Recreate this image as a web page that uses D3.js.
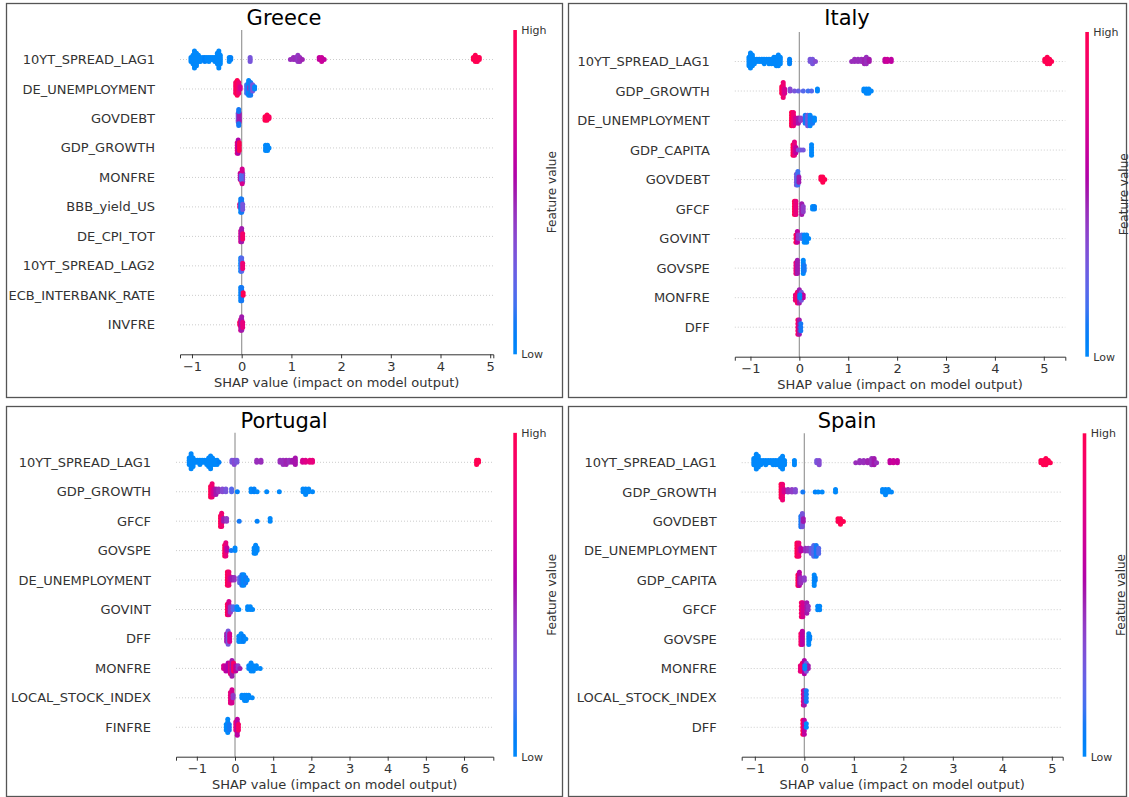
<!DOCTYPE html>
<html>
<head>
<meta charset="utf-8">
<script src="https://cdn.jsdelivr.net/npm/d3@7"></script>
<style>
  body { margin: 0; background: #fff; }
  svg { display: block; }
  text { font-family: 'DejaVu Sans', sans-serif; }
</style>
</head>
<body>
<svg id="chart" width="1129" height="797"></svg>
<script>
// features, top row first
const greeceFeatures = ['10YT_SPREAD_LAG1', 'DE_UNEMPLOYMENT', 'GOVDEBT', 'GDP_GROWTH', 'MONFRE',
  'BBB_yield_US', 'DE_CPI_TOT', '10YT_SPREAD_LAG2', 'ECB_INTERBANK_RATE', 'INVFRE'];
const italyFeatures = ['10YT_SPREAD_LAG1', 'GDP_GROWTH', 'DE_UNEMPLOYMENT', 'GDP_CAPITA', 'GOVDEBT',
  'GFCF', 'GOVINT', 'GOVSPE', 'MONFRE', 'DFF'];
const portugalFeatures = ['10YT_SPREAD_LAG1', 'GDP_GROWTH', 'GFCF', 'GOVSPE', 'DE_UNEMPLOYMENT',
  'GOVINT', 'DFF', 'MONFRE', 'LOCAL_STOCK_INDEX', 'FINFRE'];
const spainFeatures = ['10YT_SPREAD_LAG1', 'GDP_GROWTH', 'GOVDEBT', 'DE_UNEMPLOYMENT', 'GDP_CAPITA',
  'GFCF', 'GOVSPE', 'MONFRE', 'LOCAL_STOCK_INDEX', 'DFF'];

// shap points per feature: [shap value, feature value (0 low .. 1 high), count]
const greeceShap = [
  [[-1.02,0,3],[-0.98,0,5],[-0.95,0,9],[-0.91,0,7],[-0.87,0,4],[-0.83,0,3],[-0.78,0,2],[-0.74,0.05,3],
   [-0.70,0,2],[-0.66,0,3],[-0.62,0,2],[-0.58,0,2],[-0.54,0,3],[-0.49,0,6],[-0.46,0,9],[-0.43,0,5],
   [-0.25,0,3],[-0.22,0.05,2],[0.17,0.3,3],
   [0.98,0.45,1],[1.04,0.45,2],[1.09,0.45,2],[1.13,0.42,4],[1.17,0.45,3],[1.22,0.48,1],
   [1.56,0.62,2],[1.61,0.65,3],[1.66,0.62,1],
   [4.66,1,2],[4.70,1,4],[4.74,1,3],[4.78,1,2]],
  [[-0.12,0.9,6],[-0.09,1,8],[-0.06,0.85,6],[-0.03,0.7,2],
   [0.10,0.15,5],[0.14,0,8],[0.16,0.45,2],[0.18,0.1,7],[0.22,0.3,4],[0.26,0,2]],
  [[-0.07,0.3,6],[-0.05,0.5,6],[-0.06,0.1,4],[0.47,1,3],[0.51,1,4],[0.55,0.95,2]],
  [[-0.09,0.8,5],[-0.07,0.55,6],[-0.05,1,4],[0.48,0,3],[0.52,0,3],[0.55,0,1]],
  [[-0.03,0.6,4],[0.0,1,5],[0.02,0.4,5],[-0.01,0.2,3],[0.01,0.7,3]],
  [[-0.04,0.8,2],[-0.02,0,6],[0.0,0.1,6],[0.02,0.3,3]],
  [[-0.02,0.7,5],[0.0,0.5,6],[0.02,0.9,3]],
  [[-0.02,0,6],[0.0,0.2,6],[0.02,0.85,3]],
  [[-0.02,0,6],[0.0,0.1,6],[0.03,1,2]],
  [[-0.04,1,2],[-0.02,0.7,5],[0.0,0.5,6],[0.02,0.8,3]]
];
const italyShap = [
  [[-1.03,0,5],[-1.0,0,8],[-0.96,0,6],[-0.92,0,3],[-0.87,0,2],[-0.82,0,2],[-0.77,0,2],[-0.72,0,3],
   [-0.67,0,2],[-0.62,0,3],[-0.57,0,3],[-0.52,0,4],[-0.47,0,5],[-0.43,0,6],[-0.39,0,4],
   [-0.2,0.05,3],[0.22,0.3,2],[0.27,0.3,3],[0.33,0.35,1],
   [1.07,0.45,1],[1.13,0.45,2],[1.2,0.45,2],[1.27,0.45,2],[1.33,0.48,3],[1.37,0.45,4],[1.43,0.5,2],
   [1.75,0.62,2],[1.8,0.65,2],[1.88,0.6,2],
   [5.02,1,2],[5.07,1,4],[5.12,1,3],[5.16,1,1]],
  [[-0.36,1,4],[-0.33,0.85,8],[-0.3,0.7,3],[-0.19,0.35,2],[-0.1,0.3,1],[-0.02,0.25,1],[0.08,0.2,1],
   [0.18,0.15,1],[0.25,0.2,1],[0.37,0,2],[1.32,0,2],[1.37,0,3],[1.42,0,3],[1.47,0,1]],
  [[-0.16,1,6],[-0.12,0.85,6],[-0.08,0.7,3],[-0.02,0.5,3],[0.03,0.4,2],
   [0.12,0.1,4],[0.17,0.3,5],[0.22,0,5],[0.27,0.1,3],[0.31,0,2]],
  [[-0.13,1,5],[-0.1,0.8,6],[-0.07,0.6,3],[-0.02,0.35,1],[0.03,0.3,1],[0.08,0.3,1],[0.25,0,5]],
  [[-0.06,0.3,5],[-0.03,0.15,6],[-0.01,0.5,3],[0.44,1,2],[0.48,1,3],[0.52,1,1]],
  [[-0.1,1,6],[-0.07,0.8,6],[0.05,0.5,5],[0.08,0.4,3],[0.27,0,2],[0.31,0.05,2]],
  [[-0.07,1,3],[-0.04,0.6,4],[-0.02,0.4,2],[0.05,0.2,2],[0.1,0,3],[0.15,0,3],[0.19,0,1]],
  [[-0.07,0.8,5],[-0.04,0.5,6],[0.08,0,6],[0.1,0.1,3]],
  [[-0.08,0.8,3],[-0.04,0.9,5],[0.0,0.5,6],[0.04,0.3,4],[0.08,0.6,2],[0.01,0,2]],
  [[-0.03,0.9,5],[0.0,0.5,5],[0.03,0.1,3]]
];
const portugalShap = [
  [[-1.2,0,4],[-1.15,0,8],[-1.1,0,5],[-1.04,0,2],[-0.98,0,2],[-0.92,0,3],[-0.86,0,2],[-0.8,0,2],
   [-0.74,0,3],[-0.69,0,5],[-0.64,0,7],[-0.59,0,4],[-0.53,0,3],[-0.47,0,3],[-0.42,0.05,1],
   [-0.08,0.3,2],[-0.02,0.35,3],[0.05,0.3,2],[0.57,0.45,2],[0.68,0.45,2],
   [1.18,0.45,2],[1.26,0.45,3],[1.34,0.48,3],[1.42,0.45,2],[1.5,0.5,2],[1.58,0.52,4],
   [1.77,0.7,2],[1.85,0.75,2],[1.96,0.8,2],[2.03,0.8,2],[6.33,1,3],[6.38,1,2]],
  [[-0.64,1,5],[-0.6,0.85,6],[-0.56,0.7,3],[-0.5,0.5,3],[-0.43,0.45,2],[-0.33,0.35,2],[-0.24,0.3,2],
   [-0.09,0.2,2],[0.06,0.05,1],[0.42,0,2],[0.5,0.05,2],[0.58,0,1],[0.83,0,1],[1.16,0,1],
   [1.78,0,2],[1.85,0,3],[1.93,0,2],[2.03,0,1]],
  [[-0.38,1,5],[-0.35,0.85,6],[-0.3,0.5,2],[-0.22,0.4,2],[0.11,0.1,1],[0.58,0.05,1],[0.92,0,2]],
  [[-0.27,1,5],[-0.24,0.8,6],[-0.21,0.6,2],[-0.1,0.1,1],[0.0,0,2],[0.5,0,3],[0.54,0,4],[0.58,0,2]],
  [[-0.2,1,6],[-0.16,0.85,6],[-0.12,0.7,2],[-0.07,0.5,2],[-0.02,0.45,2],
   [0.12,0.2,3],[0.18,0.1,5],[0.23,0,5],[0.28,0.1,3],[0.32,0,1]],
  [[-0.2,1,5],[-0.16,0.7,6],[-0.12,0.4,3],[-0.05,0.2,2],[0.05,0,2],[0.1,0,1],[0.33,0,2],[0.4,0,2],[0.46,0,1]],
  [[-0.22,0.5,4],[-0.18,0.3,6],[-0.14,0.7,4],[0.1,0,3],[0.16,0,4],[0.22,0.05,3],[0.28,0,1]],
  [[-0.3,0.7,2],[-0.24,0.6,3],[-0.18,0.55,4],[-0.12,0.8,5],[-0.08,0.5,7],[-0.04,0.9,4],[0.02,0.6,3],
   [0.08,0.4,2],[0.13,0.5,1],[0.36,0,2],[0.42,0,4],[0.48,0,3],[0.56,0,2],[0.66,0,1]],
  [[-0.12,0.8,5],[-0.08,0.7,6],[-0.05,0.4,2],[0.18,0,2],[0.25,0,3],[0.3,0,3],[0.36,0,2],[0.45,0,1]],
  [[-0.23,0,3],[-0.19,0,6],[-0.15,0.1,3],[0.02,0.8,4],[0.06,0.6,7],[0.09,0.9,3]]
];
const spainShap = [
  [[-1.02,0,4],[-0.97,0,8],[-0.93,0,6],[-0.88,0,3],[-0.83,0,2],[-0.78,0,3],[-0.73,0,2],[-0.68,0,2],
   [-0.63,0,3],[-0.58,0,3],[-0.53,0,3],[-0.48,0,5],[-0.44,0,7],[-0.4,0,3],[-0.2,0,3],
   [0.25,0.3,2],[0.3,0.35,3],
   [1.04,0.45,1],[1.12,0.45,2],[1.2,0.45,2],[1.28,0.48,2],[1.36,0.45,4],[1.41,0.5,4],[1.46,0.45,1],
   [1.73,0.62,2],[1.8,0.65,2],[1.88,0.62,2],
   [4.78,1,2],[4.83,1,3],[4.88,1,4],[4.93,1,2],[4.97,1,1]],
  [[-0.47,1,6],[-0.44,0.85,7],[-0.41,0.7,2],[-0.33,0.45,2],[-0.25,0.4,2],[-0.18,0.35,2],
   [-0.03,0.1,1],[0.22,0.05,1],[0.28,0,1],[0.36,0,1],[0.63,0,2],[1.58,0,2],[1.64,0,3],[1.7,0,2],[1.76,0,1]],
  [[-0.07,0.1,5],[-0.04,0.3,6],[-0.02,0.5,2],[0.68,1,2],[0.73,1,3],[0.79,1,1]],
  [[-0.15,1,6],[-0.11,0.85,6],[-0.07,0.6,2],[0.02,0.45,2],[0.08,0.4,2],
   [0.14,0.3,3],[0.19,0.2,5],[0.24,0.1,5],[0.29,0.2,3]],
  [[-0.13,1,5],[-0.1,0.6,6],[-0.07,0.45,3],[0.0,0.4,2],[0.2,0,5],[0.22,0.05,2]],
  [[-0.06,0.9,5],[-0.03,0.7,5],[0.05,0.5,4],[0.08,0.45,2],[0.27,0,2],[0.31,0,2]],
  [[-0.07,0.9,5],[-0.04,0.6,6],[0.09,0,5],[0.11,0.05,2]],
  [[-0.08,0.8,3],[-0.04,0.9,4],[0.0,0.55,6],[0.04,0.3,4],[0.08,0.5,2],[0.01,0,2]],
  [[-0.02,0.8,5],[0.0,0.5,5],[0.04,0.1,4]],
  [[-0.03,1,5],[0.0,0.6,5],[0.04,0,2]]
];

const ticksTo5 = [-1, 0, 1, 2, 3, 4, 5];
const ticksTo6 = [-1, 0, 1, 2, 3, 4, 5, 6];

const panels = [
  { title: 'Greece', features: greeceFeatures, shap: greeceShap, ticks: ticksTo5,
    box: [6, 3, 556, 394], domain: [-1.241, 5.062], range: [180, 493.3], row0: 59.5, axisY: 354.3 },
  { title: 'Italy', features: italyFeatures, shap: italyShap, ticks: ticksTo5,
    box: [568, 3, 558, 394], domain: [-1.32, 5.44], range: [734.8, 1065.3], row0: 61.5, axisY: 356.7 },
  { title: 'Portugal', features: portugalFeatures, shap: portugalShap, ticks: ticksTo6,
    box: [6, 406, 556, 390], domain: [-1.546, 6.767], range: [176, 493.3], row0: 462.3, axisY: 756.7 },
  { title: 'Spain', features: spainFeatures, shap: spainShap, ticks: ticksTo5,
    box: [568, 406, 558, 390], domain: [-1.265, 5.22], range: [741.7, 1062.7], row0: 462.7, axisY: 756.7 }
];

// shap red_blue colormap (LCH ramp)
function shapColor(t) {
  const l = t < 0.5 ? 54 - 28 * t : 40 + 28 * (t - 0.5);
  return d3.hcl(266.93 + 113.39 * t, 70 + 20 * t, l).formatHex();
}

const svg = d3.select('#chart');
const defs = svg.append('defs');
const grad = defs.append('linearGradient').attr('id', 'cbar')
  .attr('x1', 0).attr('y1', 1).attr('x2', 0).attr('y2', 0);
d3.range(0, 1.0001, 0.05).forEach(t => {
  grad.append('stop').attr('offset', t).attr('stop-color', shapColor(t));
});

// beeswarm offsets like shap.summary_plot
function swarm(groups, x, rowPx) {
  const pts = [];
  groups.forEach(([v, c, n]) => { for (let i = 0; i < n; i++) pts.push({ v, c }); });
  let maxY = 1;
  for (const bin of d3.group(pts, p => Math.round(x(p.v))).values()) {
    bin.forEach((p, layer) => {
      p.k = Math.ceil(layer / 2) * (layer % 2 ? 1 : -1);
      maxY = Math.max(maxY, p.k + 1);
    });
  }
  const s = 0.9 * 0.4 * rowPx / maxY;
  pts.forEach(p => { p.dy = -p.k * s; });
  return pts;
}

panels.forEach(p => {
  const g = svg.append('g');
  const [bx, by, bw, bh] = p.box;
  g.append('rect')
    .attr('x', bx + 0.5).attr('y', by + 0.5).attr('width', bw).attr('height', bh)
    .attr('fill', 'none').attr('stroke', '#555').attr('stroke-width', 1.3);

  const n = p.features.length;
  const rowPx = (p.axisY - p.row0) / n;
  const top = p.row0 - rowPx;
  const x = d3.scaleLinear().domain(p.domain).range(p.range);
  const y = d3.scaleLinear().domain([0, n - 1]).range([p.row0, p.row0 + rowPx * (n - 1)]);

  // title, centred on the panel
  g.append('text')
    .attr('x', bx + bw / 2).attr('y', by + 15)
    .attr('dy', '0.35em').attr('text-anchor', 'middle')
    .style('font-size', '21px').style('fill', '#000')
    .text(p.title);

  // grid lines
  g.append('g').selectAll('line').data(p.features).join('line')
    .attr('x1', p.range[0]).attr('x2', p.range[1])
    .attr('y1', (d, i) => y(i)).attr('y2', (d, i) => y(i))
    .attr('stroke', '#ccc').attr('stroke-width', 1).attr('stroke-dasharray', '1,2');

  // zero line
  g.append('line')
    .attr('x1', x(0)).attr('x2', x(0)).attr('y1', top).attr('y2', p.axisY)
    .attr('stroke', '#999').attr('stroke-width', 1.2);

  // feature labels
  g.append('g').selectAll('text').data(p.features).join('text')
    .attr('x', p.range[0] - 25).attr('y', (d, i) => y(i)).attr('dy', '0.35em')
    .attr('text-anchor', 'end')
    .style('font-size', '13px').style('fill', '#333')
    .text(d => d);

  // points
  p.shap.forEach((groups, i) => {
    const pts = swarm(groups, x, rowPx);
    g.append('g').selectAll('circle').data(pts).join('circle')
      .attr('cx', d => x(d.v)).attr('cy', d => y(i) + d.dy)
      .attr('r', 2.5)
      .attr('fill', d => shapColor(d.c));
  });

  // x axis
  const ax = g.append('g')
    .attr('transform', `translate(0,${p.axisY})`)
    .call(d3.axisBottom(x).tickValues(p.ticks).tickFormat(d3.format('d'))
      .tickSizeOuter(0).tickSize(4).tickPadding(3));
  ax.select('.domain').attr('stroke', '#333').attr('stroke-width', 1);
  ax.selectAll('.tick line').attr('stroke', '#333');
  ax.selectAll('.tick text')
    .style('font-size', '13px').style('fill', '#333')
    .style('font-family', "'DejaVu Sans', sans-serif");

  g.append('text')
    .attr('x', (p.range[0] + p.range[1]) / 2).attr('y', p.axisY + 28)
    .attr('dy', '0.35em').attr('text-anchor', 'middle')
    .style('font-size', '13px').style('fill', '#333')
    .text('SHAP value (impact on model output)');

  // colorbar
  const cbX = p.range[1] + 20;
  g.append('rect')
    .attr('x', cbX).attr('y', top).attr('width', 3.6).attr('height', p.axisY - top)
    .attr('fill', 'url(#cbar)');
  g.append('text')
    .attr('x', cbX + 8).attr('y', top).attr('dy', '0.35em')
    .style('font-size', '11px').style('fill', '#333').text('High');
  g.append('text')
    .attr('x', cbX + 8).attr('y', p.axisY).attr('dy', '0.35em')
    .style('font-size', '11px').style('fill', '#333').text('Low');
  g.append('text')
    .attr('transform', `translate(${cbX + 38},${(top + p.axisY) / 2}) rotate(-90)`)
    .attr('dy', '0.35em').attr('text-anchor', 'middle')
    .style('font-size', '12px').style('fill', '#333')
    .text('Feature value');
});
</script>
</body>
</html>
